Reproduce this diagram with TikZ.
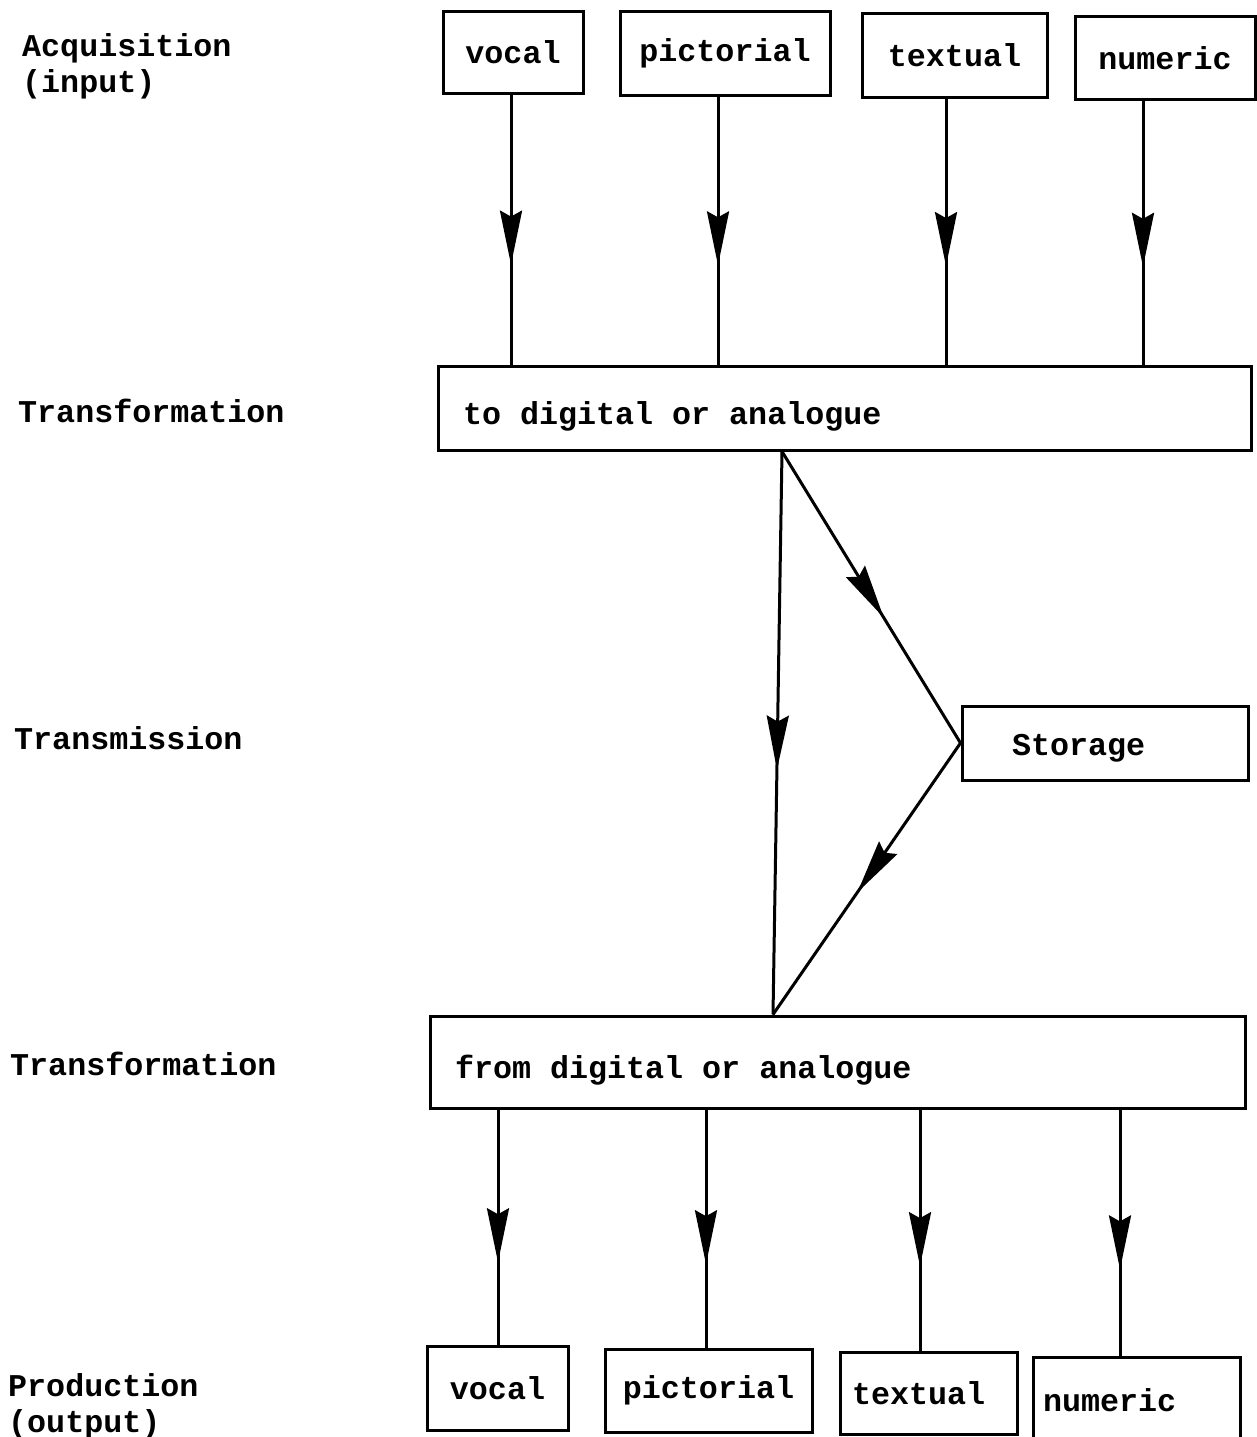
\documentclass[tikz,border=0pt]{standalone}
\usepackage{fontspec}
\newfontfamily\courfont{Liberation Mono}
\usetikzlibrary{arrows.meta,decorations.markings}
\newcommand{\courtext}{\courfont\bfseries\fontsize{31.7}{36}\selectfont}
\newcommand{\monosp}{\spaceskip=19pt\xspaceskip=19pt\relax}
\tikzset{
  lbl/.style={font=\courtext, inner sep=0pt, anchor=west, align=left},
  boxn/.style={draw, line width=3pt, inner sep=0pt, font=\courtext},
  flow/.style={line width=3pt, postaction={decorate},
    decoration={markings, mark=at position #1 with {\arrow{Stealth[length=54pt,width=22pt,inset=6pt]}}}}
}
\begin{document}
\begin{tikzpicture}[x=1pt,y=-1pt]
\useasboundingbox (0,0) rectangle (1257,1437);
% left labels
\node[lbl] (la) at (22,66) {Acquisition\\(input)};
\node[lbl] (lt1) at (18,411) {Transformation};
\node[lbl] (lm) at (14,738) {Transmission};
\node[lbl] (lt2) at (10,1064) {Transformation};
\node[lbl] (lp) at (8,1406) {Production\\(output)};
% top boxes
\node[boxn, minimum width=140pt, minimum height=81pt] (iv) at (513,52.5) {vocal};
\node[boxn, minimum width=210pt, minimum height=83pt] (ip) at (725,53.5) {pictorial};
\node[boxn, minimum width=185pt, minimum height=83pt] (it) at (954.5,55.5) {textual};
\node[boxn, minimum width=180pt, minimum height=82pt] (in) at (1165,58) {numeric};
% transformation boxes
\node[boxn, minimum width=813pt, minimum height=84pt, text width=763pt, align=left, text height=40pt, text depth=7pt] (tt) at (844.5,408) {\monosp to digital or analogue};
\node[boxn, minimum width=815pt, minimum height=92pt, text width=765pt, align=left, text height=40pt, text depth=7pt] (tb) at (837.5,1062) {\monosp from digital or analogue};
% storage
\node[boxn, minimum width=286pt, minimum height=74pt, text width=186pt, align=left, text height=32pt, text depth=7pt] (st) at (1105,743) {Storage};
% bottom boxes
\node[boxn, minimum width=141pt, minimum height=84pt] (ov) at (497.5,1388) {vocal};
\node[boxn, minimum width=207pt, minimum height=83pt] (op) at (708.5,1390.5) {pictorial};
\node[boxn, minimum width=177pt, minimum height=82pt, text width=153pt, align=left] (ot) at (928.5,1393) {textual};
\node[boxn, minimum width=207pt, minimum height=86pt, text width=187pt, align=left] (on) at (1136.5,1400) {numeric};
% columns
\coordinate (c1) at (511,0);
\coordinate (c2) at (718,0);
\coordinate (c3) at (946,0);
\coordinate (c4) at (1143,0);
\coordinate (d1) at (498,0);
\coordinate (d2) at (706,0);
\coordinate (d3) at (920,0);
\coordinate (d4) at (1120,0);
\coordinate (m1) at (782,0);
\coordinate (m2) at (773,0);
% top arrows
\draw[flow=0.63] (iv.south -| c1) -- (tt.north -| c1);
\draw[flow=0.63] (ip.south -| c2) -- (tt.north -| c2);
\draw[flow=0.63] (it.south -| c3) -- (tt.north -| c3);
\draw[flow=0.63] (in.south -| c4) -- (tt.north -| c4);
% transmission
\draw[flow=0.565] (tt.south -| m1) -- (tb.north -| m2);
\draw[flow=0.57] (tt.south -| m1) -- (st.west);
\draw[flow=0.55] (st.west) -- (tb.north -| m2);
% bottom arrows
\draw[flow=0.65] (tb.south -| d1) -- (ov.north -| d1);
\draw[flow=0.65] (tb.south -| d2) -- (op.north -| d2);
\draw[flow=0.65] (tb.south -| d3) -- (ot.north -| d3);
\draw[flow=0.65] (tb.south -| d4) -- (on.north -| d4);
\end{tikzpicture}
\end{document}
